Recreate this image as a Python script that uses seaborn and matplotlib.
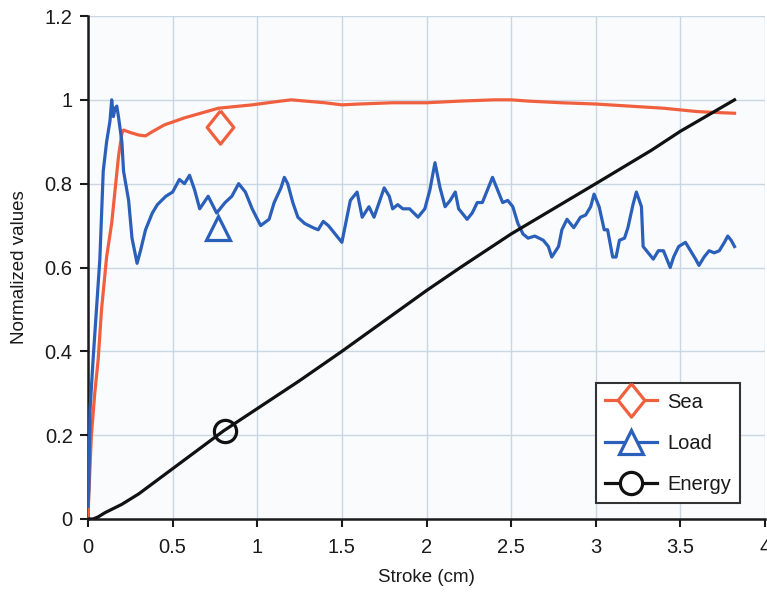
import matplotlib
matplotlib.use("Agg")
import matplotlib.pyplot as plt
from matplotlib.lines import Line2D
import numpy as np
import pandas as pd
import seaborn as sns

# ---------------- data ----------------
sea_x = [0, 0.005, 0.02, 0.04, 0.06, 0.08, 0.11, 0.14, 0.16, 0.18, 0.2, 0.21, 0.25, 0.3, 0.34,
         0.38, 0.45, 0.57, 0.77, 0.97, 1.1, 1.2, 1.4, 1.5, 1.6, 1.8, 2.0, 2.2, 2.4, 2.5, 2.6,
         2.8, 3.0, 3.2, 3.4, 3.6, 3.7, 3.82]
sea_y = [0, 0.06, 0.2, 0.3, 0.38, 0.5, 0.625, 0.706, 0.785, 0.864, 0.92, 0.928, 0.922, 0.916, 0.914,
         0.924, 0.94, 0.957, 0.98, 0.988, 0.995, 1.0, 0.993, 0.988, 0.99, 0.993, 0.993, 0.997, 1.0, 1.0, 0.997,
         0.993, 0.99, 0.985, 0.98, 0.972, 0.97, 0.968]

load_x = [0, 0.005, 0.012, 0.03, 0.05, 0.07, 0.09, 0.11, 0.13, 0.14, 0.15, 0.16, 0.17, 0.18, 0.2,
          0.21, 0.24, 0.26, 0.29, 0.31, 0.34, 0.38, 0.41, 0.46, 0.5, 0.54, 0.57, 0.6, 0.63, 0.66,
          0.71, 0.76, 0.81, 0.85, 0.89, 0.93, 0.97, 1.02, 1.07, 1.1, 1.14, 1.16, 1.18, 1.21, 1.24,
          1.28, 1.33, 1.36, 1.39, 1.42, 1.46, 1.5, 1.52, 1.55, 1.59, 1.62, 1.66, 1.69, 1.72, 1.75,
          1.78, 1.8, 1.83, 1.86, 1.9, 1.95, 1.99, 2.02, 2.05, 2.08, 2.11, 2.14, 2.17, 2.19, 2.24,
          2.27, 2.3, 2.33, 2.36, 2.39, 2.42, 2.45, 2.48, 2.51, 2.54, 2.57, 2.6, 2.64, 2.69, 2.72,
          2.74, 2.78, 2.8, 2.83, 2.87, 2.91, 2.94, 2.97, 2.99, 3.02, 3.05, 3.07, 3.1, 3.12, 3.14,
          3.17, 3.19, 3.22, 3.24, 3.27, 3.28, 3.31, 3.34, 3.37, 3.4, 3.43, 3.44, 3.46, 3.49, 3.53,
          3.56, 3.59, 3.61, 3.64, 3.67, 3.7, 3.73, 3.76, 3.78, 3.8, 3.82]
load_y = [0.03, 0.07, 0.26, 0.38, 0.5, 0.62, 0.83, 0.9, 0.95, 1.0, 0.96, 0.98, 0.985, 0.96, 0.9,
          0.83, 0.76, 0.67, 0.61, 0.64, 0.69, 0.73, 0.75, 0.77, 0.78, 0.81, 0.8, 0.82, 0.785, 0.74,
          0.77, 0.73, 0.755, 0.77, 0.8, 0.78, 0.74, 0.7, 0.715, 0.755, 0.79, 0.815, 0.8, 0.755, 0.72,
          0.705, 0.695, 0.69, 0.71, 0.7, 0.68, 0.66, 0.7, 0.76, 0.78, 0.72, 0.745, 0.72, 0.755, 0.79,
          0.77, 0.74, 0.75, 0.74, 0.74, 0.72, 0.74, 0.785, 0.85, 0.79, 0.745, 0.76, 0.78, 0.74, 0.715,
          0.73, 0.755, 0.755, 0.785, 0.815, 0.785, 0.755, 0.76, 0.745, 0.705, 0.68, 0.67, 0.675, 0.665, 0.65,
          0.625, 0.65, 0.69, 0.715, 0.695, 0.72, 0.725, 0.745, 0.775, 0.745, 0.69, 0.69, 0.625, 0.625, 0.665,
          0.67, 0.695, 0.75, 0.78, 0.745, 0.65, 0.635, 0.62, 0.64, 0.64, 0.61, 0.6, 0.625, 0.65, 0.66,
          0.64, 0.62, 0.605, 0.625, 0.64, 0.635, 0.64, 0.66, 0.675, 0.665, 0.65]

energy_x = [0, 0.03, 0.06, 0.1, 0.15, 0.2, 0.3, 0.5, 0.8, 1.25, 1.5, 2.0, 2.2, 2.5, 3.0, 3.33, 3.5, 3.82]
energy_y = [0, 0.0, 0.005, 0.015, 0.025, 0.035, 0.06, 0.12, 0.21, 0.33, 0.40, 0.545, 0.6, 0.68, 0.80, 0.88, 0.925, 1.0]

# single marker points on each curve
sea_marker = (0.78, 0.935)
load_marker = (0.77, 0.695)
energy_marker = (0.81, 0.21)

series_names = ["Sea", "Load", "Energy"]
x_ticks = [0, 0.5, 1, 1.5, 2, 2.5, 3, 3.5, 4]
x_tick_labels = ["0", "0.5", "1", "1.5", "2", "2.5", "3", "3.5", "4"]
y_ticks = [0, 0.2, 0.4, 0.6, 0.8, 1.0, 1.2]
y_tick_labels = ["0", "0.2", "0.4", "0.6", "0.8", "1", "1.2"]

# ---------------- style ----------------
plt.rcParams['font.family'] = ['Liberation Sans', 'DejaVu Sans']

sea_color = "#f0603e"
load_color = "#2a5fba"
energy_color = "#111111"
grid_color = "#c9d7e3"
lw = 2.3

diamond = [(0, 1), (0.8, 0), (0, -1), (-0.8, 0), (0, 1)]

fig = plt.figure(figsize=(7.67, 5.94), dpi=100)
ax = fig.add_axes([88 / 767, 75 / 594, 677 / 767, 503 / 594])
ax.set_facecolor("#fafbfd")

df_sea = pd.DataFrame({"x": sea_x, "y": sea_y})
df_load = pd.DataFrame({"x": load_x, "y": load_y})
df_energy = pd.DataFrame({"x": energy_x, "y": energy_y})

sns.lineplot(data=df_sea, x="x", y="y", ax=ax, color=sea_color, lw=lw, sort=False, estimator=None, zorder=3)
sns.lineplot(data=df_load, x="x", y="y", ax=ax, color=load_color, lw=lw, sort=False, estimator=None, zorder=4)
sns.lineplot(data=df_energy, x="x", y="y", ax=ax, color=energy_color, lw=lw, sort=False, estimator=None, zorder=5)

mk_sizes = {"Sea": 24, "Load": 17, "Energy": 16}
mk_shapes = {"Sea": diamond, "Load": "^", "Energy": "o"}
mk_colors = {"Sea": sea_color, "Load": load_color, "Energy": energy_color}
mk_pos = {"Sea": sea_marker, "Load": load_marker, "Energy": energy_marker}

for name in series_names:
    px, py = mk_pos[name]
    ax.plot([px], [py], linestyle="None", marker=mk_shapes[name], markersize=mk_sizes[name],
            markerfacecolor="none", markeredgecolor=mk_colors[name], markeredgewidth=2.3, zorder=6)

ax.set_xlim(0, 4)
ax.set_ylim(0, 1.2)
ax.set_xticks(x_ticks)
ax.set_xticklabels(x_tick_labels)
ax.set_yticks(y_ticks)
ax.set_yticklabels(y_tick_labels)
ax.grid(True, color=grid_color, lw=1.0)
ax.set_axisbelow(True)

for s in ["top", "right"]:
    ax.spines[s].set_visible(False)
for s in ["left", "bottom"]:
    ax.spines[s].set_color("#1a1a1a")
    ax.spines[s].set_linewidth(1.8)

ax.tick_params(axis="both", direction="out", length=6, width=1.5, color="#1a1a1a",
               labelsize=14.5, labelcolor="#1a1a1a")
ax.tick_params(axis="x", pad=8)
ax.tick_params(axis="y", pad=5)

ax.set_xlabel("Stroke (cm)", fontsize=13.5, color="#1a1a1a", labelpad=8)
ax.set_ylabel("Normalized values", fontsize=13.5, color="#1a1a1a", labelpad=12)

handles = [
    Line2D([], [], color=mk_colors[n], lw=lw, marker=mk_shapes[n], markersize=mk_sizes[n],
           markerfacecolor="white", markeredgecolor=mk_colors[n], markeredgewidth=2.3)
    for n in series_names
]
leg = ax.legend(handles, series_names, loc="lower right", bbox_to_anchor=(0.963, 0.032),
                fontsize=14.5, frameon=True, fancybox=False, framealpha=1, edgecolor="#333333",
                handlelength=2.6, labelspacing=1.1, borderpad=0.45, handletextpad=0.5,
                borderaxespad=0)
leg.get_frame().set_linewidth(1.5)
for t in leg.get_texts():
    t.set_color("#1a1a1a")

fig.savefig("out.png", dpi=100)
